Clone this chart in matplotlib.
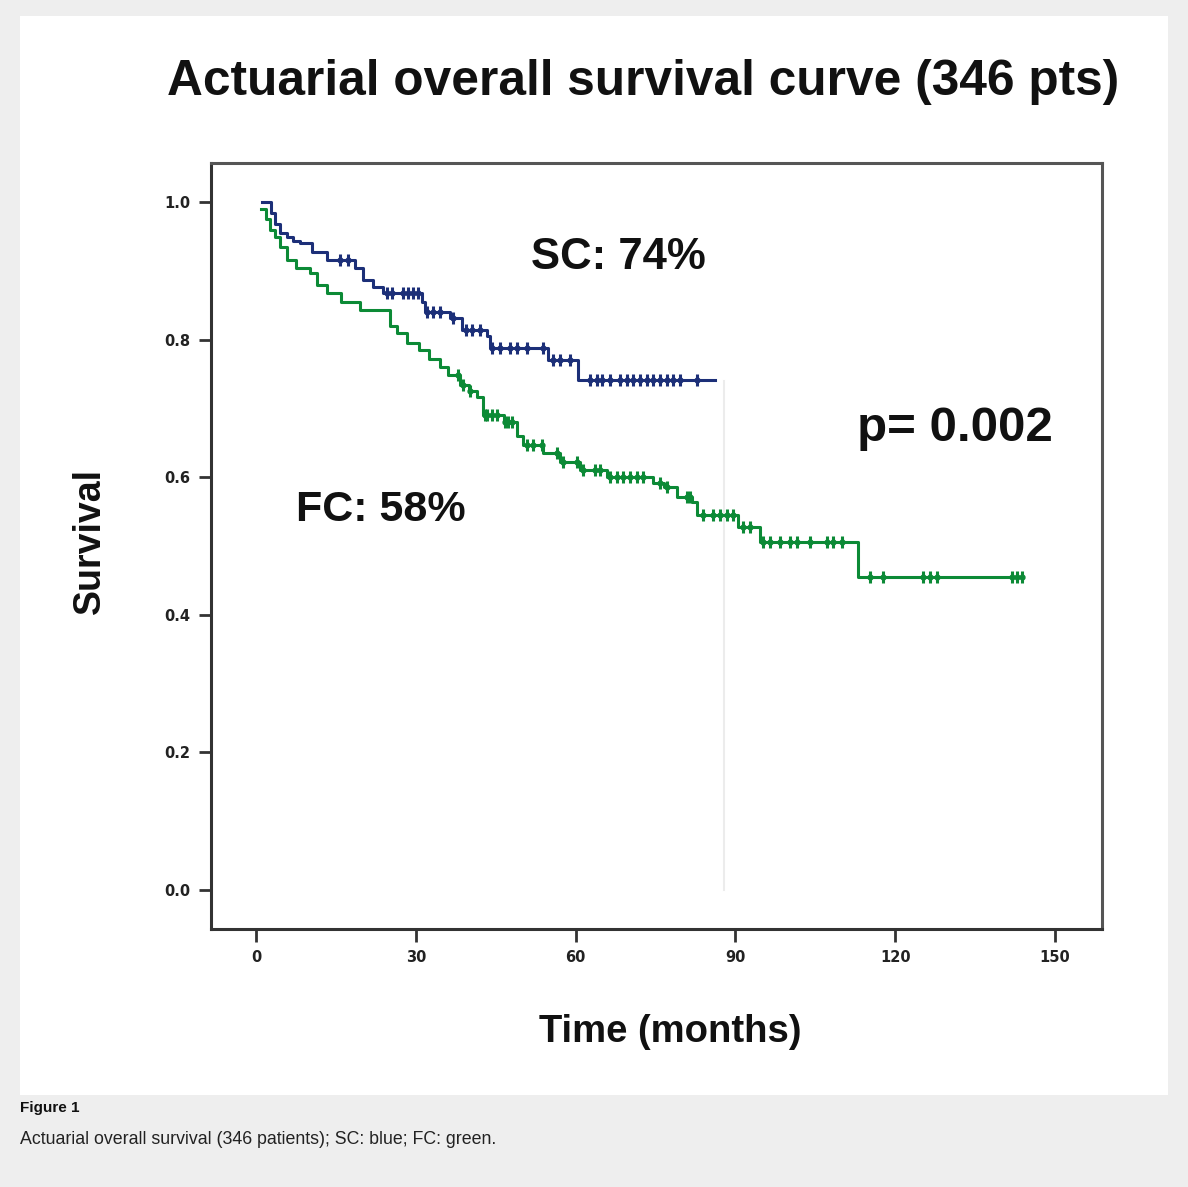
import numpy as np
import matplotlib
matplotlib.use("Agg")
import matplotlib.pyplot as plt
from matplotlib.patches import Rectangle

# ── Data (months, survival fraction) ──────────────────────────────────────────
sc_time = [1.1, 2.8, 3.6, 4.5, 5.8, 7.0, 8.3, 10.5, 13.3, 18.5, 20.1, 22.0,
           23.8, 31.2, 31.7, 36.4, 38.7, 43.4, 43.9, 54.8, 60.4, 86.2]
sc_surv = [1.0, 0.985, 0.969, 0.955, 0.949, 0.944, 0.940, 0.928, 0.916, 0.905,
           0.887, 0.877, 0.868, 0.855, 0.840, 0.831, 0.814, 0.805, 0.788, 0.770,
           0.741, 0.741]
sc_censor = [15.8, 17.3, 24.6, 25.5, 27.6, 28.5, 29.5, 30.4, 32.1, 33.2, 34.5,
             37.0, 39.5, 40.5, 42.0, 44.3, 45.8, 47.7, 49.0, 50.9, 53.9, 55.8,
             57.1, 59.0, 62.7, 64.0, 65.0, 66.5, 68.3, 69.6, 70.8, 72.1, 73.4,
             74.5, 75.8, 77.2, 78.3, 79.6, 82.8]

fc_time = [1.0, 1.8, 2.6, 3.5, 4.5, 5.8, 7.5, 10.1, 11.5, 13.3, 16.0, 19.5,
           25.2, 26.5, 28.3, 30.5, 32.5, 34.5, 36.0, 38.3, 40.0, 41.5, 42.6,
           46.5, 49.0, 50.1, 53.9, 57.1, 60.8, 65.9, 74.5, 76.5, 79.0, 81.8,
           82.8, 90.5, 94.6, 113.0, 144.0]
fc_surv = [0.99, 0.975, 0.960, 0.950, 0.935, 0.916, 0.905, 0.897, 0.880, 0.868,
           0.855, 0.843, 0.820, 0.810, 0.795, 0.785, 0.772, 0.760, 0.748, 0.734,
           0.725, 0.717, 0.690, 0.680, 0.660, 0.647, 0.635, 0.622, 0.610, 0.600,
           0.592, 0.586, 0.571, 0.564, 0.545, 0.528, 0.506, 0.455, 0.455]
fc_censor = [37.9, 38.9, 40.2, 42.9, 43.4, 44.3, 45.2, 46.8, 47.3, 48.1, 50.9,
             52.0, 53.7, 56.5, 57.6, 60.3, 61.4, 63.6, 64.6, 66.5, 67.8, 68.9,
             70.2, 71.5, 72.6, 75.8, 77.2, 80.9, 81.5, 83.9, 85.8, 87.1, 88.4,
             89.5, 91.4, 92.7, 95.2, 96.5, 98.4, 100.2, 101.6, 104.0, 107.2,
             108.3, 110.0, 115.3, 117.7, 125.2, 126.5, 127.8, 141.9, 142.9, 143.8]

x_ticks = [0, 30, 60, 90, 120, 150]
y_ticks = [0.0, 0.2, 0.4, 0.6, 0.8, 1.0]

SC_COLOR = "#1c2f78"
FC_COLOR = "#0c8a36"
BOLD = dict(family=["Liberation Sans", "DejaVu Sans"], fontweight="bold")


def at_times(times, surv, query):
    """Survival level of a step curve (post) at the query times."""
    idx = np.searchsorted(times, query, side="right") - 1
    return np.asarray(surv)[np.clip(idx, 0, len(surv) - 1)]


fig = plt.figure(figsize=(11.88, 11.87), dpi=100)
fig.patch.set_facecolor("#eeeeee")
# white panel behind the chart image
fig.patches.append(Rectangle((20 / 1188, 1 - 1095 / 1187), 1148 / 1188, 1079 / 1187,
                             transform=fig.transFigure, facecolor="white",
                             edgecolor="none", zorder=-5))

ax = fig.add_axes([211 / 1188, 1 - 929 / 1187, 891 / 1188, 766 / 1187])
ax.set_zorder(2)
ax.set_facecolor("white")
ax.set_xlim(-8.45, 158.8)
ax.set_ylim(-0.057, 1.057)

# faint scan artefact line
ax.plot([87.8, 87.8], [0.0, 0.74], color="#ececec", lw=1.5, zorder=1)

for t, s, c, col in ((fc_time, fc_surv, fc_censor, FC_COLOR),
                     (sc_time, sc_surv, sc_censor, SC_COLOR)):
    ax.step(t, s, where="post", color=col, lw=2.2, zorder=3)
    ax.plot(c, at_times(t, s, c), ls="none", marker="|", ms=9, mew=2.2,
            color=col, zorder=4)
    ax.plot(c, at_times(t, s, c), ls="none", marker="o", ms=3.5,
            color=col, zorder=4)

ax.set_xticks(x_ticks)
ax.set_yticks(y_ticks)
ax.set_xticklabels([str(v) for v in x_ticks])
ax.set_yticklabels([f"{v:.1f}" for v in y_ticks])
ax.tick_params(axis="both", length=9, width=2, color="#333333", labelsize=10.5,
               pad=6)
for lab in ax.get_xticklabels() + ax.get_yticklabels():
    lab.set_fontweight("bold")
    lab.set_color("#222222")

for side in ("left", "bottom"):
    ax.spines[side].set_linewidth(2.2)
    ax.spines[side].set_color("#333333")
for side in ("top", "right"):
    ax.spines[side].set_linewidth(2.2)
    ax.spines[side].set_color("#555555")

ax.set_ylabel("Survival", fontsize=27, color="#111111", **BOLD)
ax.yaxis.set_label_coords(-0.116, 0.507)
ax.set_xlabel("Time (months)", fontsize=27.5, color="#111111", **BOLD)
ax.xaxis.set_label_coords(0.515, -0.111)

ax.text(68.0, 0.92, "SC: 74%", fontsize=31.5, ha="center", va="center",
        color="#111111", **BOLD)
ax.text(131.2, 0.671, "p= 0.002", fontsize=35.5, ha="center", va="center",
        color="#111111", **BOLD)
ax.text(23.5, 0.552, "FC: 58%", fontsize=31, ha="center", va="center",
        color="#111111", **BOLD)

fig.text(643 / 1188, 1 - 82 / 1187, "Actuarial overall survival curve (346 pts)",
         fontsize=35.7, ha="center", va="center", color="#111111", **BOLD)

fig.text(20 / 1188, 1 - 1108 / 1187, "Figure 1", fontsize=11, ha="left",
         va="center", color="#111111", **BOLD)
fig.text(20 / 1188, 1 - 1140 / 1187,
         "Actuarial overall survival (346 patients); SC: blue; FC: green.",
         fontsize=12.8, ha="left", va="center", color="#222222",
         family=["Liberation Sans", "DejaVu Sans"])

fig.savefig("out.png", dpi=100, facecolor=fig.get_facecolor())
